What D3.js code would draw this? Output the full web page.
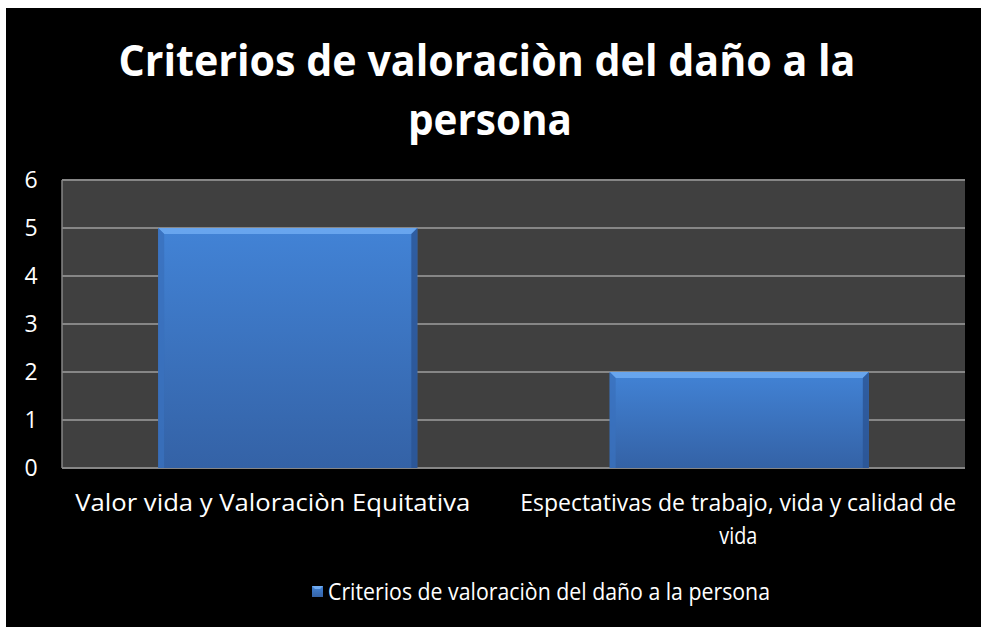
<!DOCTYPE html>
<html><head><meta charset="utf-8">
<script src="https://cdn.jsdelivr.net/npm/d3@7"></script>
<style>html,body{margin:0;padding:0;background:#fff;overflow:hidden}svg{display:block}</style>
</head><body>
<script>
const titleLines = ["Criterios de valoraciòn del daño a la", "persona"];
const categories = ["Valor vida y Valoraciòn Equitativa", "Espectativas de trabajo, vida y calidad de vida"];
const values = [5, 2];
const seriesName = "Criterios de valoraciòn del daño a la persona";
const yTicks = [0, 1, 2, 3, 4, 5, 6];

const W = 981, H = 627;
const svg = d3.select("body").append("svg").attr("width", W).attr("height", H);
const font = "'Open Sans', 'Liberation Sans', sans-serif";

svg.append("rect").attr("x", 6).attr("y", 8).attr("width", W - 6).attr("height", H - 8).attr("fill", "#000");

const defs = svg.append("defs");
const g1 = defs.append("linearGradient").attr("id", "barg").attr("x1", 0).attr("y1", 0).attr("x2", 0).attr("y2", 1);
g1.append("stop").attr("offset", 0).attr("stop-color", "#4283d6");
g1.append("stop").attr("offset", 1).attr("stop-color", "#3462a6");

function fitLen(sel, target) {
  sel.attr("textLength", target).attr("lengthAdjust", "spacingAndGlyphs");
}

// Title
const t1 = svg.append("text").attr("x", 487).attr("y", 76).attr("text-anchor", "middle").attr("fill", "#fff")
  .attr("font-family", font).attr("font-weight", "bold").attr("font-size", 43).text(titleLines[0]);
fitLen(t1, 737);
const t2 = svg.append("text").attr("x", 490).attr("y", 135).attr("text-anchor", "middle").attr("fill", "#fff")
  .attr("font-family", font).attr("font-weight", "bold").attr("font-size", 43).text(titleLines[1]);
fitLen(t2, 164);

const L = 62, R = 965, T = 180, B = 468;
const x = d3.scaleBand().domain(categories).range([L, R]).paddingInner(0.426).paddingOuter(0.213);
const y = d3.scaleLinear().domain([0, 6]).range([B, T]);

svg.append("rect").attr("x", L).attr("y", T).attr("width", R - L).attr("height", B - T).attr("fill", "#404040");

svg.append("g").selectAll("line").data(yTicks).join("line")
  .attr("x1", L).attr("x2", R).attr("y1", d => y(d)).attr("y2", d => y(d))
  .attr("stroke", "#868686").attr("stroke-width", 2);
svg.append("line").attr("x1", L).attr("x2", L).attr("y1", T).attr("y2", B).attr("stroke", "#868686").attr("stroke-width", 1.5);

// bars
const bars = svg.append("g").selectAll("g").data(categories).join("g");
bars.append("rect").attr("x", d => x(d)).attr("y", (d, i) => y(values[i]))
  .attr("width", x.bandwidth()).attr("height", (d, i) => B - y(values[i])).attr("fill", "url(#barg)");
const bv = 6;
bars.append("path").attr("d", (d, i) => {
  const x0 = x(d), x1 = x0 + x.bandwidth(), yt = y(values[i]);
  return `M${x0},${yt}L${x1},${yt}L${x1 - bv},${yt + bv}L${x0 + bv},${yt + bv}Z`;
}).attr("fill", "#6fabf2").attr("opacity", 0.85);
bars.append("path").attr("d", (d, i) => {
  const x0 = x(d), yt = y(values[i]);
  return `M${x0},${yt}L${x0 + bv},${yt + bv}L${x0 + bv},${B}L${x0},${B}Z`;
}).attr("fill", "#3a70bd").attr("opacity", 0.8);
bars.append("path").attr("d", (d, i) => {
  const x1 = x(d) + x.bandwidth(), yt = y(values[i]);
  return `M${x1},${yt}L${x1 - bv},${yt + bv}L${x1 - bv},${B}L${x1},${B}Z`;
}).attr("fill", "#2a5494").attr("opacity", 0.8);

// y labels
svg.append("g").selectAll("text").data(yTicks).join("text")
  .attr("x", 31).attr("y", d => y(d) + 8).attr("text-anchor", "middle").attr("fill", "#fff")
  .attr("font-family", font).attr("font-size", 23).text(d => d);

// x labels
const fsL = 23;
const xl1 = svg.append("text").attr("x", x(categories[0]) + x.bandwidth() / 2 - 15).attr("y", 511).attr("text-anchor", "middle")
  .attr("fill", "#fff").attr("font-family", font).attr("font-size", fsL).text(categories[0]);
fitLen(xl1, 395);
const words = categories[1].split(" ");
const l2a = words.slice(0, -1).join(" "), l2b = words[words.length - 1];
const cx2 = x(categories[1]) + x.bandwidth() / 2;
const xl2 = svg.append("text").attr("x", cx2 - 1).attr("y", 511).attr("text-anchor", "middle").attr("fill", "#fff")
  .attr("font-family", font).attr("font-size", fsL).text(l2a);
fitLen(xl2, 436);
const xl3 = svg.append("text").attr("x", cx2 - 1).attr("y", 544).attr("text-anchor", "middle").attr("fill", "#fff")
  .attr("font-family", font).attr("font-size", fsL).text(l2b);
fitLen(xl3, 38);

// legend
svg.append("rect").attr("x", 312).attr("y", 586).attr("width", 11).attr("height", 11).attr("fill", "url(#barg)");
svg.append("path").attr("d", "M312,586L323,586L320,589L315,589Z").attr("fill", "#6fabf2");
const lg = svg.append("text").attr("x", 328).attr("y", 600).attr("fill", "#fff").attr("font-family", font)
  .attr("font-size", fsL).text(seriesName);
fitLen(lg, 442);
</script>
</body></html>
